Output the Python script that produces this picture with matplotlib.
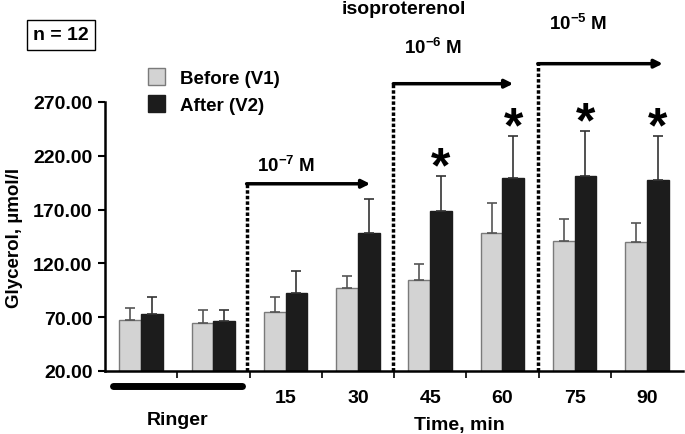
import matplotlib
matplotlib.use("Agg")
import matplotlib.pyplot as plt
import numpy as np
from matplotlib.ticker import FormatStrFormatter

plt.rcParams['font.family'] = ['Liberation Sans', 'DejaVu Sans']
plt.rcParams['font.weight'] = 'bold'
plt.rcParams['mathtext.fontset'] = 'custom'
plt.rcParams['mathtext.rm'] = 'Liberation Sans:bold'
plt.rcParams['mathtext.bf'] = 'Liberation Sans:bold'

# Data
groups = ["", "", "15", "30", "45", "60", "75", "90"]
before = [67.7, 64.7, 74.6, 97.2, 104.7, 148.4, 140.7, 139.7]
before_err = [11.2, 12.0, 14.5, 11.5, 14.8, 27.6, 20.7, 18.3]
after = [73.0, 66.8, 92.3, 148.4, 168.8, 199.3, 201.4, 197.4]
after_err = [16.1, 9.9, 20.4, 31.3, 32.3, 39.0, 41.2, 40.9]
significant = [False, False, False, False, True, True, True, True]
y_ticks = [20, 70, 120, 170, 220, 270]
conc_labels = [r"$10^{-7}$ M", r"$10^{-6}$ M", r"$10^{-5}$ M"]

fig = plt.figure(figsize=(6.85, 4.35), dpi=100)
ax = fig.add_axes([105/685, 1-372/435, 578/685, 269/435])

x = np.arange(len(groups))
w = 0.3
zeros = np.zeros(len(groups))
ax.bar(x - w/2, before, w, color="#d3d3d3", edgecolor="#7a7a7a", linewidth=1,
       yerr=[zeros, before_err], error_kw=dict(ecolor="#555555", elinewidth=1.2, capsize=3.5, capthick=1.2),
       label="Before (V1)", zorder=2)
ax.bar(x + w/2, after, w, color="#1c1c1c", edgecolor="#1c1c1c", linewidth=1,
       yerr=[zeros, after_err], error_kw=dict(ecolor="#333333", elinewidth=1.2, capsize=3.5, capthick=1.2),
       label="After (V2)", zorder=2)

for xi, a, e, s in zip(x, after, after_err, significant):
    if s:
        ax.text(xi + w/2, a + e - 14, "*", ha="center", va="bottom", fontsize=36,
                fontweight="bold", clip_on=False)

ax.set_xlim(-0.5, 7.5)
ax.set_ylim(20, 270)
ax.set_yticks(y_ticks)
ax.yaxis.set_major_formatter(FormatStrFormatter("%.2f"))
ax.set_xticks(np.arange(0.5, 7.0, 1.0))
ax.set_xticklabels([])
ax.tick_params(axis="y", direction="out", length=5, width=1.5, labelsize=14, pad=4)
ax.tick_params(axis="x", direction="out", length=5, width=1.2)
for lab in ax.get_yticklabels():
    lab.set_fontweight("bold")
for sp in ["top", "right"]:
    ax.spines[sp].set_visible(False)
ax.spines["left"].set_linewidth(1.8)
ax.spines["bottom"].set_linewidth(1.8)

# group labels
for xi, g in zip(x, groups):
    if g:
        ax.text(xi, -0.1, g, transform=ax.get_xaxis_transform(), ha="center", va="center",
                fontsize=14, fontweight="bold")
ax.plot([-0.39, 1.39], [-0.055, -0.055], transform=ax.get_xaxis_transform(), color="black",
        lw=5, solid_capstyle="round", clip_on=False)
ax.text(0.5, -0.18, "Ringer", transform=ax.get_xaxis_transform(), ha="center", va="center",
        fontsize=14, fontweight="bold")
ax.text(4.4, -0.2, "Time, min", transform=ax.get_xaxis_transform(), ha="center", va="center",
        fontsize=14, fontweight="bold")

ax.set_ylabel("Glycerol, µmol/l", fontsize=13.5, fontweight="bold", labelpad=7)

# concentration annotations
starts = [1.46, 3.49, 5.49]
tops = [194, 287, 305.6]
ends = [3.17, 5.15, 7.22]
label_y = [211.6, 321.4, 343.7]
for xs, yt, xe, lab, ly in zip(starts, tops, ends, conc_labels, label_y):
    ax.plot([xs, xs], [20, yt], color="black", lw=2.5, linestyle=(0, (1, 0.6)), clip_on=False)
    ax.annotate("", xy=(xe, yt), xytext=(xs, yt), annotation_clip=False,
                arrowprops=dict(arrowstyle="-|>", color="black", lw=2.5, mutation_scale=12,
                                shrinkA=0, shrinkB=0))
    ax.text(xs + 0.15, ly, lab, ha="left", va="center", fontsize=13.5, fontweight="bold",
            clip_on=False)

fig.text(404/685, 1-10/435, "isoproterenol", ha="center", va="center", fontsize=14,
         fontweight="bold")
fig.text(61/685, 1-36/435, "n = 12", ha="center", va="center", fontsize=14, fontweight="bold",
         bbox=dict(boxstyle="square,pad=0.32", facecolor="white", edgecolor="black", lw=1))

leg = fig.legend(loc="upper left", bbox_to_anchor=(131/685, 1-52/435), frameon=False,
                 handlelength=0.9, handleheight=1.0, handletextpad=0.8,
                 labelspacing=0.45, prop=dict(weight="bold", size=13.5))

fig.savefig("out.png", dpi=100)
